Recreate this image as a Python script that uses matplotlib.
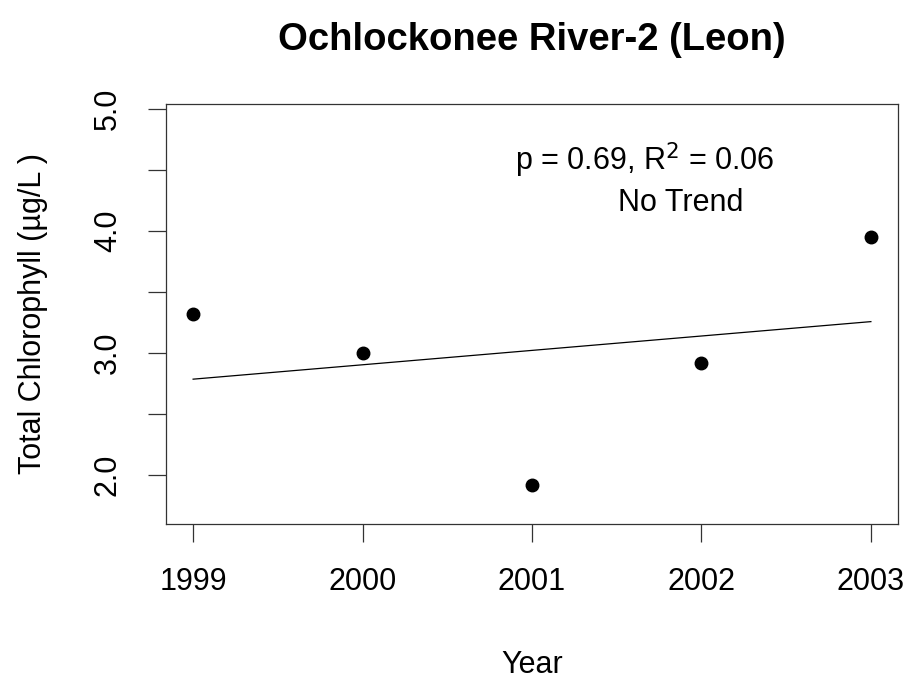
import matplotlib
matplotlib.use("Agg")
import matplotlib.pyplot as plt
import numpy as np

plt.rcParams['font.family'] = ['Liberation Sans', 'DejaVu Sans']

years = [1999, 2000, 2001, 2002, 2003]
chl = [3.32, 3.00, 1.92, 2.92, 3.95]
x_ticks = [1999, 2000, 2001, 2002, 2003]
y_major = [2.0, 3.0, 4.0, 5.0]
y_minor = [2.5, 3.5, 4.5]
title = "Ochlockonee River-2 (Leon)"
stat_text = r"p = 0.69, R$^2$ = 0.06"
trend_text = "No Trend"

FS = 22

fig = plt.figure(figsize=(9.09, 6.79), dpi=100)
ax = fig.add_axes([166/909, 1-524/679, (898-166)/909, (524-104)/679])

ax.plot(years, chl, 'o', color='black', markersize=9)
slope, intercept = np.polyfit(years, chl, 1)
xl = np.array([years[0], years[-1]])
ax.plot(xl, slope*xl + intercept, color='black', lw=0.9)

ax.set_xlim(1998.84, 2003.16)
ax.set_ylim(1.598, 5.043)
ax.set_xticks(x_ticks)
ax.set_xticklabels([str(y) for y in x_ticks], fontsize=FS)
ax.set_yticks(y_major)
ax.set_yticklabels([f"{v:.1f}" for v in y_major], fontsize=FS, rotation=90, va='center')
ax.set_yticks(y_minor, minor=True)
ax.tick_params(axis='both', which='both', direction='out', length=13, width=0.9, color='#333333')
ax.tick_params(axis='x', pad=18)
ax.tick_params(axis='y', pad=18)
for s in ax.spines.values():
    s.set_linewidth(0.9)
    s.set_color('#333333')

ax.set_xlabel("Year", fontsize=FS, labelpad=38)
ax.set_ylabel("Total Chlorophyll (\u00b5g/L )", fontsize=FS, labelpad=32)
fig.suptitle(title, fontsize=27.5, fontweight='bold', x=532/909, y=1-40/679, va='center')

ax.text(2001.667, 4.584, stat_text, fontsize=FS, ha='center', va='center')
ax.text(2001.88, 4.23, trend_text, fontsize=FS, ha='center', va='center')

fig.savefig("out.png", dpi=100)
